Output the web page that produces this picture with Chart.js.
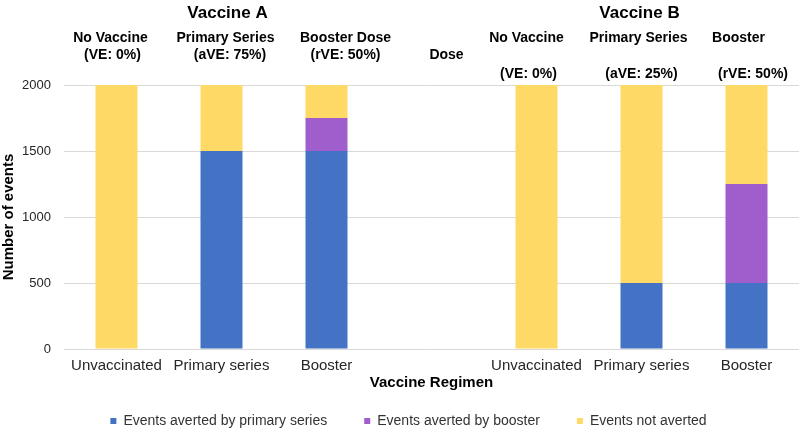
<!DOCTYPE html>
<html>
<head>
<meta charset="utf-8">
<script src="https://cdn.jsdelivr.net/npm/chart.js@4/dist/chart.umd.min.js"></script>
<style>
  html, body { margin: 0; padding: 0; background: #ffffff; }
  #wrap { width: 799px; height: 432px; position: relative; }
</style>
</head>
<body>
<div id="wrap"><canvas id="c" width="799" height="432"></canvas></div>
<script>
// ---- data ----
const categories = ['Unvaccinated', 'Primary series', 'Booster', '', 'Unvaccinated', 'Primary series', 'Booster'];
const primaryAverted = [0, 1500, 1500, null, 0, 500, 500];
const boosterAverted = [0, 0, 250, null, 0, 0, 750];
const notAverted = [2000, 500, 250, null, 2000, 1500, 750];
const seriesNames = ['Events averted by primary series', 'Events averted by booster', 'Events not averted'];
const groupTitles = ['Vaccine A', 'Vaccine B'];
const headerLine1 = ['No Vaccine', 'Primary Series', 'Booster Dose', '', 'No Vaccine', 'Primary Series', 'Booster'];
const headerLine2 = ['(VE: 0%)', '(aVE: 75%)', '(rVE: 50%)', 'Dose', '(VE: 0%)', '(aVE: 25%)', '(rVE: 50%)'];
const yTicks = [0, 500, 1000, 1500, 2000];

// ---- styles ----
const FONT = '"Liberation Sans", Arial, sans-serif';
const colors = ['#4472C4', '#A05ECD', '#FFD966'];
const groupTitleStyle = [{ cat: 1, dx: 6 }, { cat: 5, dx: -2 }];
const line1Dx = [-6, 4, 19, 0, -10, -3, -8];
const line2Dx = [-4, 8.5, 19, 15, -8, 0, 6.5];
const line2Y = [55, 55, 55, 55, 74, 74, 74];
const LEGEND_BOX_HEIGHT = 55;
const LEGEND_SHIFT_X = 9;

const headerPlugin = {
  id: 'headers',
  beforeLayout(chart) {
    const lg = chart.legend;
    if (lg && !lg._fitPatched) {
      const orig = lg.fit;
      lg.fit = function () { orig.call(this); this.height = LEGEND_BOX_HEIGHT; };
      lg._fitPatched = true;
    }
  },
  afterLayout(chart) {
    const lg = chart.legend;
    if (lg) { lg.left += LEGEND_SHIFT_X; lg.right += LEGEND_SHIFT_X; }
  },
  afterDraw(chart) {
    const ctx = chart.ctx;
    const xs = chart.scales.x;
    ctx.save();
    ctx.fillStyle = '#000000';
    ctx.textAlign = 'center';
    ctx.textBaseline = 'middle';
    ctx.font = 'bold 17px ' + FONT;
    groupTitles.forEach((t, i) => {
      const s = groupTitleStyle[i];
      ctx.fillText(t, xs.getPixelForValue(s.cat) + s.dx, 13);
    });
    ctx.font = 'bold 14px ' + FONT;
    headerLine1.forEach((t, i) => {
      if (t) ctx.fillText(t, xs.getPixelForValue(i) + line1Dx[i], 38);
    });
    headerLine2.forEach((t, i) => {
      if (t) ctx.fillText(t, xs.getPixelForValue(i) + line2Dx[i], line2Y[i]);
    });
    ctx.restore();
  }
};

new Chart(document.getElementById('c'), {
  type: 'bar',
  data: {
    labels: categories,
    datasets: [
      { label: seriesNames[0], data: primaryAverted, backgroundColor: colors[0] },
      { label: seriesNames[1], data: boosterAverted, backgroundColor: colors[1] },
      { label: seriesNames[2], data: notAverted, backgroundColor: colors[2] }
    ]
  },
  options: {
    responsive: false,
    animation: false,
    devicePixelRatio: 1,
    layout: { padding: { top: 85, left: 0, right: 0, bottom: 0 } },
    datasets: { bar: { categoryPercentage: 1.0, barPercentage: 0.4, borderWidth: 0 } },
    plugins: {
      tooltip: { enabled: false },
      legend: {
        position: 'bottom',
        labels: {
          boxWidth: 6,
          boxHeight: 6,
          padding: 37,
          color: '#333333',
          font: { family: FONT, size: 14 }
        }
      }
    },
    scales: {
      x: {
        stacked: true,
        grid: { display: false, drawTicks: false },
        border: { display: false },
        ticks: { color: '#262626', padding: 8, font: { family: FONT, size: 15 }, maxRotation: 0, autoSkip: false },
        title: {
          display: true,
          text: 'Vaccine Regimen',
          color: '#000000',
          font: { family: FONT, size: 15, weight: 'bold' },
          padding: { top: 0, bottom: -15 }
        },
        afterFit(scale) { scale.height = 28; }
      },
      y: {
        stacked: true,
        min: 0,
        max: 2000,
        afterBuildTicks(scale) { scale.ticks = yTicks.map(v => ({ value: v })); },
        grid: { color: '#d9d9d9', lineWidth: 1, drawTicks: false },
        border: { display: false },
        ticks: { color: '#262626', padding: 13, font: { family: FONT, size: 13 }, callback: v => String(v) },
        title: {
          display: true,
          text: 'Number of events',
          color: '#000000',
          font: { family: FONT, size: 15, weight: 'bold' },
          padding: { top: 0, bottom: 0 }
        },
        afterFit(scale) { scale.width = 64; }
      }
    }
  },
  plugins: [headerPlugin]
});
</script>
</body>
</html>
